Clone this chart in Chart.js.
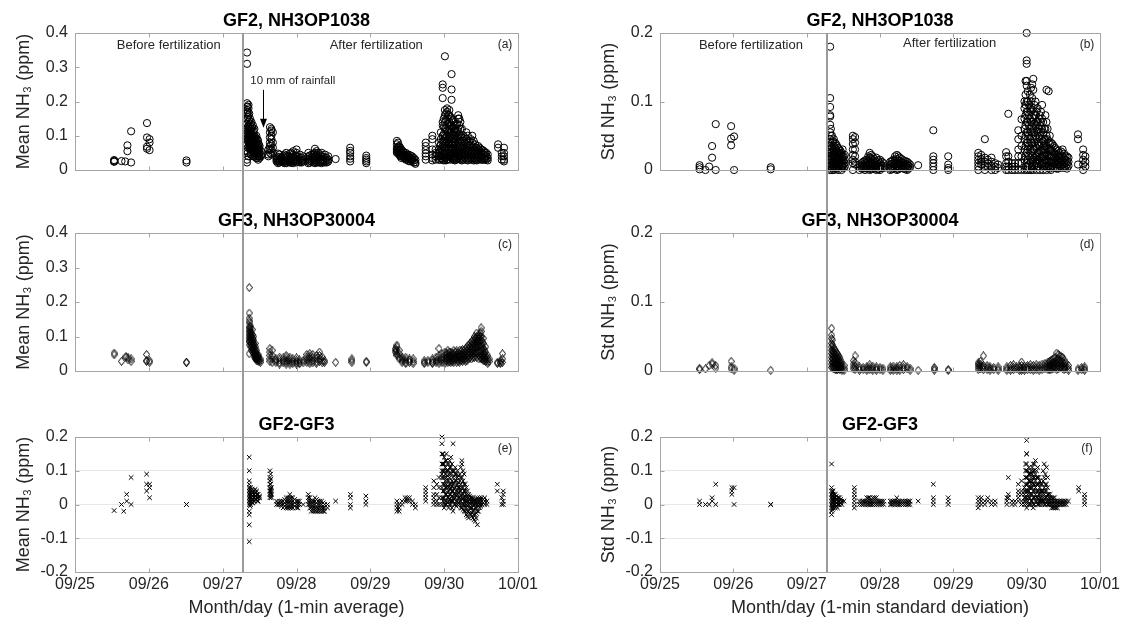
<!DOCTYPE html>
<html>
<head>
<meta charset="utf-8">
<title>NH3 GF2 / GF3</title>
<script src="https://cdn.jsdelivr.net/npm/chart.js@4.4.1/dist/chart.umd.min.js"></script>
<style>
  html, body { margin: 0; padding: 0; background: #fff; }
  #page { position: relative; width: 1123px; height: 624px; overflow: hidden; }
  .cell { position: absolute; }
</style>
</head>
<body>
<div id="page">
  <div class="cell" style="left:0;top:0;width:560px;height:200px"><canvas id="chartA"></canvas></div>
  <div class="cell" style="left:560px;top:0;width:563px;height:200px"><canvas id="chartB"></canvas></div>
  <div class="cell" style="left:0;top:200px;width:560px;height:200px"><canvas id="chartC"></canvas></div>
  <div class="cell" style="left:560px;top:200px;width:563px;height:200px"><canvas id="chartD"></canvas></div>
  <div class="cell" style="left:0;top:400px;width:560px;height:224px"><canvas id="chartE"></canvas></div>
  <div class="cell" style="left:560px;top:400px;width:563px;height:224px"><canvas id="chartF"></canvas></div>
</div>
<script>
// ==================================================
// 1. DATA
// x = days since 09/25 00:00, each row = [time, value, value, ...]
// ==================================================
const dayLabels = ['09/25', '09/26', '09/27', '09/28', '09/29', '09/30', '10/01'];
const fertilizationDay = 2.28;

// (a) GF2 1-min mean (ppm)
const gf2Mean = [
  [0.53, 0.029, 0.027, 0.025, 0.024], [0.63, 0.026], [0.68, 0.025], [0.71, 0.072, 0.055],
  [0.76, 0.113, 0.022], [0.975, 0.137, 0.095, 0.068, 0.062], [1.01, 0.09, 0.08, 0.058], [1.51, 0.028, 0.022],
  [2.33, 0.343, 0.31, 0.195, 0.185, 0.175, 0.165, 0.15, 0.135, 0.12, 0.105, 0.09, 0.055, 0.03, 0.022],
  [2.34, 0.185, 0.17, 0.155, 0.125, 0.11, 0.095, 0.085, 0.065, 0.05],
  [2.35, 0.19, 0.18, 0.16, 0.14, 0.13, 0.115, 0.1, 0.09, 0.08, 0.07, 0.04],
  [2.36, 0.165, 0.145, 0.125, 0.105, 0.095, 0.085, 0.075, 0.065],
  [2.37, 0.15, 0.13, 0.12, 0.11, 0.1, 0.09, 0.08, 0.07, 0.06],
  [2.38, 0.135, 0.115, 0.1, 0.09, 0.08, 0.07, 0.06, 0.045],
  [2.39, 0.14, 0.12, 0.105, 0.095, 0.085, 0.075, 0.065, 0.05],
  [2.40, 0.125, 0.1, 0.09, 0.08, 0.07, 0.06],
  [2.41, 0.13, 0.11, 0.1, 0.09, 0.08, 0.07, 0.06, 0.04],
  [2.42, 0.115, 0.095, 0.085, 0.075, 0.065, 0.05, 0.04],
  [2.43, 0.12, 0.1, 0.09, 0.08, 0.07, 0.055, 0.045],
  [2.445, 0.095, 0.085, 0.075, 0.06, 0.05, 0.04],
  [2.455, 0.1, 0.09, 0.08, 0.065, 0.05, 0.035],
  [2.47, 0.09, 0.075, 0.065, 0.055, 0.045, 0.035],
  [2.48, 0.085, 0.07, 0.06, 0.05, 0.04, 0.03],
  [2.49, 0.075, 0.065, 0.055, 0.045],
  [2.50, 0.07, 0.06, 0.05, 0.04, 0.035], [2.52, 0.055, 0.045, 0.04],
  [2.62, 0.06, 0.045, 0.04],
  [2.64, 0.125, 0.11, 0.095, 0.08, 0.07, 0.06, 0.05],
  [2.66, 0.12, 0.115, 0.1, 0.09, 0.075, 0.06, 0.045],
  [2.68, 0.11, 0.08, 0.065, 0.05],
  [2.73, 0.04, 0.035, 0.03, 0.025], [2.75, 0.048, 0.033, 0.027, 0.02], [2.77, 0.045, 0.038, 0.03, 0.025, 0.022],
  [2.795, 0.036, 0.03, 0.024], [2.82, 0.04, 0.032, 0.028, 0.022], [2.84, 0.045, 0.036, 0.026, 0.02],
  [2.86, 0.05, 0.042, 0.035, 0.03, 0.025, 0.02], [2.885, 0.04, 0.03, 0.024],
  [2.91, 0.048, 0.04, 0.033, 0.028, 0.022], [2.93, 0.05, 0.035, 0.027, 0.021],
  [2.955, 0.055, 0.045, 0.038, 0.03, 0.025, 0.02], [2.98, 0.042, 0.032, 0.026],
  [3.0, 0.06, 0.05, 0.04, 0.033, 0.027, 0.022], [3.02, 0.038, 0.03, 0.024],
  [3.045, 0.045, 0.035, 0.028, 0.022], [3.07, 0.035, 0.027, 0.022], [3.09, 0.04, 0.03, 0.025],
  [3.16, 0.05, 0.04, 0.032, 0.025, 0.02], [3.18, 0.042, 0.034, 0.027, 0.021], [3.205, 0.045, 0.037, 0.03, 0.024],
  [3.23, 0.047, 0.038, 0.03, 0.022], [3.25, 0.062, 0.05, 0.04, 0.03, 0.025, 0.02],
  [3.27, 0.055, 0.045, 0.036, 0.028, 0.022], [3.295, 0.05, 0.042, 0.035, 0.028, 0.022],
  [3.32, 0.045, 0.036, 0.028, 0.022], [3.34, 0.05, 0.04, 0.032, 0.025, 0.02], [3.36, 0.038, 0.03, 0.024],
  [3.386, 0.045, 0.035, 0.028, 0.022], [3.41, 0.035, 0.028, 0.022], [3.43, 0.04, 0.03, 0.025],
  [3.53, 0.032],
  [3.727, 0.065, 0.056, 0.05, 0.04, 0.033, 0.025],
  [3.945, 0.042, 0.035, 0.03, 0.025, 0.02],
  [4.36, 0.085, 0.075, 0.065, 0.06, 0.055, 0.05], [4.375, 0.08, 0.068, 0.058, 0.05],
  [4.39, 0.07, 0.06, 0.055, 0.05, 0.045], [4.405, 0.065, 0.055, 0.048, 0.04],
  [4.42, 0.06, 0.05, 0.045, 0.04, 0.035], [4.44, 0.055, 0.048, 0.04], [4.455, 0.05, 0.045, 0.04, 0.035],
  [4.48, 0.05, 0.042, 0.036, 0.03], [4.5, 0.045, 0.04, 0.035, 0.03], [4.52, 0.045, 0.038, 0.032, 0.026],
  [4.545, 0.042, 0.035, 0.03, 0.025], [4.565, 0.04, 0.032, 0.026], [4.59, 0.035, 0.028, 0.022],
  [4.61, 0.03, 0.022, 0.018],
  [4.75, 0.08, 0.07, 0.058, 0.048, 0.04, 0.03],
  [4.84, 0.1, 0.09, 0.06, 0.045, 0.035, 0.028], [4.885, 0.06, 0.05, 0.04, 0.03],
  [4.93, 0.08, 0.06, 0.05, 0.04, 0.03], [4.945, 0.07, 0.055, 0.04, 0.03],
  [4.955, 0.11, 0.09, 0.075, 0.06, 0.045, 0.035],
  [4.98, 0.25, 0.24, 0.21, 0.14, 0.13, 0.1, 0.085, 0.07, 0.055, 0.04, 0.03],
  [4.995, 0.15, 0.125, 0.105, 0.08, 0.065, 0.05, 0.038, 0.028],
  [5.01, 0.332, 0.175, 0.16, 0.14, 0.12, 0.1, 0.09, 0.075, 0.06, 0.045, 0.035],
  [5.025, 0.165, 0.145, 0.12, 0.095, 0.08, 0.065, 0.05, 0.036, 0.028],
  [5.04, 0.18, 0.17, 0.15, 0.13, 0.115, 0.1, 0.085, 0.07, 0.055, 0.04, 0.03],
  [5.055, 0.16, 0.135, 0.11, 0.09, 0.075, 0.06, 0.045, 0.032],
  [5.07, 0.175, 0.16, 0.14, 0.12, 0.1, 0.08, 0.065, 0.05, 0.04],
  [5.085, 0.155, 0.13, 0.11, 0.095, 0.07, 0.055, 0.042, 0.03],
  [5.10, 0.28, 0.235, 0.205, 0.15, 0.13, 0.11, 0.09, 0.075, 0.06, 0.045, 0.035],
  [5.115, 0.145, 0.125, 0.105, 0.09, 0.075, 0.06, 0.045, 0.032],
  [5.13, 0.14, 0.12, 0.1, 0.085, 0.07, 0.055, 0.04, 0.03],
  [5.145, 0.12, 0.1, 0.08, 0.065, 0.05, 0.036, 0.028],
  [5.16, 0.13, 0.11, 0.09, 0.075, 0.06, 0.05, 0.04, 0.03],
  [5.175, 0.135, 0.115, 0.095, 0.07, 0.055, 0.045, 0.033],
  [5.19, 0.16, 0.15, 0.12, 0.1, 0.08, 0.065, 0.05, 0.035],
  [5.205, 0.15, 0.13, 0.105, 0.09, 0.075, 0.06, 0.045, 0.032],
  [5.22, 0.14, 0.12, 0.1, 0.085, 0.07, 0.055, 0.04, 0.03],
  [5.24, 0.12, 0.095, 0.08, 0.065, 0.05, 0.036, 0.028],
  [5.26, 0.1, 0.085, 0.07, 0.06, 0.05, 0.04, 0.03],
  [5.28, 0.095, 0.08, 0.065, 0.055, 0.045, 0.035],
  [5.30, 0.11, 0.09, 0.075, 0.06, 0.05, 0.04, 0.03],
  [5.32, 0.1, 0.08, 0.065, 0.055, 0.045, 0.035, 0.028],
  [5.34, 0.085, 0.07, 0.06, 0.05, 0.04, 0.03], [5.36, 0.09, 0.075, 0.055, 0.045, 0.035],
  [5.38, 0.1, 0.08, 0.065, 0.05, 0.04, 0.03], [5.40, 0.085, 0.068, 0.055, 0.045, 0.035, 0.028],
  [5.42, 0.075, 0.06, 0.05, 0.04, 0.03], [5.44, 0.065, 0.055, 0.045, 0.035, 0.028],
  [5.46, 0.07, 0.06, 0.05, 0.04, 0.03], [5.48, 0.065, 0.055, 0.045, 0.035],
  [5.50, 0.06, 0.05, 0.04, 0.03], [5.52, 0.058, 0.048, 0.038, 0.03],
  [5.54, 0.055, 0.045, 0.035, 0.03], [5.555, 0.05, 0.04, 0.032], [5.57, 0.05, 0.04, 0.03],
  [5.59, 0.045, 0.035, 0.028],
  [5.73, 0.075, 0.065], [5.78, 0.05, 0.04, 0.03], [5.81, 0.065, 0.05, 0.04, 0.03, 0.025]
];

// (b) GF2 1-min standard deviation (ppm)
const gf2Std = [
  [0.54, 0.007, 0.004, 0.001], [0.62, 0], [0.67, 0.005], [0.71, 0.035, 0.018], [0.76, 0.067, 0.0],
  [0.97, 0.064, 0.046, 0.036], [1.01, 0.049, 0.0], [1.51, 0.004, 0.001],
  [2.32, 0.18, 0.105, 0.092, 0.08, 0.078, 0.066, 0.055, 0.045, 0.04, 0.03, 0.02, 0.01, 0.0],
  [2.33, 0.06, 0.05, 0.035, 0.025, 0.015, 0.005],
  [2.345, 0.05, 0.04, 0.033, 0.027, 0.022, 0.018, 0.012, 0.008, 0.003, 0.0],
  [2.36, 0.042, 0.03, 0.02, 0.01, 0.004],
  [2.37, 0.045, 0.035, 0.028, 0.022, 0.016, 0.012, 0.006, 0.0],
  [2.385, 0.04, 0.032, 0.025, 0.02, 0.014, 0.009, 0.002],
  [2.40, 0.038, 0.03, 0.024, 0.018, 0.013, 0.008, 0.004],
  [2.415, 0.035, 0.027, 0.02, 0.014, 0.008, 0.002],
  [2.43, 0.032, 0.025, 0.02, 0.015, 0.01, 0.005, 0.0],
  [2.445, 0.03, 0.024, 0.018, 0.012, 0.006],
  [2.46, 0.028, 0.022, 0.016, 0.012, 0.007], [2.475, 0.025, 0.018, 0.012, 0.006, 0.0],
  [2.49, 0.03, 0.02, 0.015, 0.01, 0.005], [2.505, 0.02, 0.013, 0.008, 0.003],
  [2.52, 0.022, 0.015, 0.01, 0.005],
  [2.63, 0.05, 0.045, 0.038, 0.03, 0.022, 0.015, 0.01, 0.0], [2.66, 0.048, 0.04, 0.03, 0.02, 0.012, 0.008],
  [2.72, 0.008, 0.004, 0.0], [2.75, 0.01, 0.006, 0.002], [2.77, 0.012, 0.008, 0.005, 0.002],
  [2.795, 0.014, 0.01, 0.004, 0.0], [2.82, 0.015, 0.01, 0.006, 0.002], [2.84, 0.02, 0.013, 0.008, 0.003],
  [2.86, 0.025, 0.018, 0.012, 0.008, 0.004, 0.0], [2.88, 0.022, 0.016, 0.01, 0.006, 0.001],
  [2.9, 0.02, 0.014, 0.009, 0.005, 0.002], [2.925, 0.016, 0.011, 0.006, 0.002],
  [2.95, 0.018, 0.012, 0.008, 0.004, 0.0], [2.975, 0.014, 0.009, 0.005, 0.001],
  [3.0, 0.015, 0.01, 0.006, 0.003, 0.0], [3.025, 0.012, 0.007, 0.003], [3.05, 0.01, 0.006, 0.003],
  [3.14, 0.012, 0.008, 0.004, 0.0], [3.16, 0.013, 0.009, 0.005, 0.001], [3.18, 0.015, 0.01, 0.006, 0.002],
  [3.205, 0.02, 0.014, 0.008, 0.003], [3.23, 0.022, 0.016, 0.01, 0.006, 0.002, 0.0],
  [3.25, 0.02, 0.014, 0.009, 0.005, 0.001], [3.27, 0.018, 0.012, 0.008, 0.004],
  [3.295, 0.016, 0.011, 0.007, 0.003], [3.32, 0.014, 0.01, 0.006, 0.002],
  [3.345, 0.013, 0.009, 0.005, 0.001], [3.37, 0.012, 0.008, 0.004, 0.0], [3.39, 0.01, 0.006, 0.002],
  [3.41, 0.008, 0.004],
  [3.52, 0.007],
  [3.727, 0.058, 0.02, 0.015, 0.01, 0.005, 0.0],
  [3.93, 0.02, 0.008, 0.003, 0.0],
  [4.34, 0.025, 0.02, 0.015, 0.01, 0.005, 0.0], [4.38, 0.022, 0.016, 0.012, 0.008],
  [4.43, 0.045, 0.018, 0.012, 0.006, 0.0], [4.47, 0.015, 0.01, 0.005], [4.52, 0.018, 0.012, 0.006, 0.0],
  [4.57, 0.01, 0.005, 0.0], [4.61, 0.008, 0.003],
  [4.72, 0.026, 0.02, 0.01, 0.005, 0.0], [4.75, 0.082, 0.02, 0.012, 0.005, 0.0],
  [4.80, 0.01, 0.005, 0.0], [4.84, 0.01, 0.005, 0.0],
  [4.886, 0.058, 0.045, 0.03, 0.02, 0.01, 0.0], [4.93, 0.074, 0.05, 0.035, 0.02, 0.01, 0.0],
  [4.97, 0.1, 0.09, 0.075, 0.06, 0.045, 0.03, 0.015, 0.0],
  [4.985, 0.13, 0.11, 0.095, 0.08, 0.065, 0.05, 0.035, 0.02, 0.005],
  [5.0, 0.2, 0.16, 0.155, 0.13, 0.123, 0.1, 0.085, 0.07, 0.055, 0.04, 0.025, 0.01, 0.0],
  [5.015, 0.115, 0.1, 0.085, 0.07, 0.055, 0.04, 0.03, 0.015, 0.005],
  [5.03, 0.095, 0.08, 0.065, 0.05, 0.035, 0.02, 0.008, 0.0],
  [5.045, 0.11, 0.09, 0.075, 0.06, 0.045, 0.03, 0.018, 0.005],
  [5.06, 0.12, 0.1, 0.085, 0.07, 0.055, 0.04, 0.025, 0.012, 0.0],
  [5.075, 0.125, 0.105, 0.088, 0.07, 0.055, 0.04, 0.028, 0.015, 0.005],
  [5.09, 0.133, 0.117, 0.09, 0.075, 0.06, 0.045, 0.03, 0.015, 0.0],
  [5.105, 0.095, 0.08, 0.068, 0.055, 0.04, 0.03, 0.018, 0.006],
  [5.12, 0.1, 0.08, 0.065, 0.05, 0.035, 0.02, 0.01],
  [5.135, 0.085, 0.07, 0.058, 0.045, 0.032, 0.02, 0.01, 0.0],
  [5.15, 0.09, 0.07, 0.055, 0.04, 0.025, 0.015, 0.005],
  [5.165, 0.075, 0.06, 0.048, 0.036, 0.025, 0.015, 0.005],
  [5.18, 0.08, 0.065, 0.05, 0.035, 0.02, 0.01, 0.0],
  [5.195, 0.085, 0.07, 0.055, 0.04, 0.028, 0.018, 0.008],
  [5.21, 0.095, 0.075, 0.06, 0.045, 0.03, 0.02, 0.01],
  [5.225, 0.07, 0.055, 0.042, 0.03, 0.02, 0.01, 0.0],
  [5.24, 0.06, 0.045, 0.035, 0.025, 0.015, 0.005],
  [5.255, 0.08, 0.06, 0.045, 0.03, 0.02, 0.01],
  [5.27, 0.117, 0.07, 0.05, 0.035, 0.025, 0.015, 0.005, 0.0],
  [5.285, 0.06, 0.045, 0.032, 0.022, 0.012, 0.004],
  [5.30, 0.115, 0.04, 0.03, 0.02, 0.012, 0.005],
  [5.315, 0.05, 0.038, 0.028, 0.018, 0.01, 0.002],
  [5.33, 0.04, 0.03, 0.02, 0.012, 0.005, 0.0], [5.35, 0.038, 0.028, 0.02, 0.013, 0.006],
  [5.37, 0.035, 0.025, 0.018, 0.01, 0.004], [5.39, 0.032, 0.024, 0.017, 0.01, 0.003],
  [5.41, 0.03, 0.022, 0.015, 0.008, 0.002], [5.43, 0.028, 0.02, 0.014, 0.008, 0.002],
  [5.45, 0.025, 0.018, 0.012, 0.006], [5.47, 0.027, 0.019, 0.012, 0.005],
  [5.49, 0.03, 0.02, 0.014, 0.008, 0.003], [5.51, 0.024, 0.017, 0.01, 0.004],
  [5.53, 0.02, 0.015, 0.01, 0.005], [5.55, 0.02, 0.013, 0.008, 0.002], [5.57, 0.018, 0.012, 0.006],
  [5.70, 0.052, 0.045, 0.008], [5.77, 0.03, 0.022, 0.015, 0.008, 0.0], [5.80, 0.02, 0.012, 0.005]
];

// (c) GF3 1-min mean (ppm)
const gf3Mean = [
  [0.53, 0.052, 0.047], [0.63, 0.028], [0.69, 0.042, 0.04], [0.72, 0.038, 0.032], [0.76, 0.035, 0.028],
  [0.97, 0.048, 0.03, 0.028], [1.01, 0.03, 0.025], [1.51, 0.026, 0.024],
  [2.36, 0.242, 0.168, 0.153, 0.145, 0.13, 0.12, 0.11, 0.1, 0.09, 0.085, 0.05],
  [2.37, 0.14, 0.125, 0.115, 0.105, 0.095, 0.085, 0.075],
  [2.38, 0.13, 0.12, 0.11, 0.1, 0.09, 0.08, 0.07], [2.39, 0.11, 0.1, 0.09, 0.08, 0.07, 0.06],
  [2.40, 0.12, 0.105, 0.095, 0.085, 0.075, 0.065], [2.41, 0.095, 0.085, 0.075, 0.065, 0.055],
  [2.42, 0.1, 0.09, 0.08, 0.07, 0.06, 0.05], [2.43, 0.075, 0.065, 0.055, 0.045, 0.04],
  [2.44, 0.08, 0.07, 0.06, 0.05, 0.04], [2.45, 0.055, 0.045, 0.04, 0.035],
  [2.46, 0.06, 0.05, 0.04, 0.035, 0.03], [2.475, 0.045, 0.04, 0.035, 0.03],
  [2.49, 0.045, 0.038, 0.032, 0.027], [2.51, 0.035, 0.03, 0.025],
  [2.64, 0.065, 0.055, 0.045, 0.035, 0.028], [2.67, 0.06, 0.045, 0.035, 0.025],
  [2.72, 0.035, 0.03, 0.025], [2.77, 0.04, 0.032, 0.025, 0.02], [2.82, 0.038, 0.03, 0.024],
  [2.86, 0.045, 0.038, 0.03, 0.025, 0.02], [2.91, 0.04, 0.032, 0.026, 0.02], [2.95, 0.035, 0.028, 0.022],
  [3.0, 0.038, 0.03, 0.025, 0.02], [3.04, 0.032, 0.026, 0.021], [3.09, 0.03, 0.024],
  [3.14, 0.048, 0.04, 0.032, 0.025], [3.18, 0.05, 0.042, 0.035, 0.028, 0.022],
  [3.22, 0.048, 0.04, 0.03, 0.024], [3.27, 0.045, 0.036, 0.028, 0.022],
  [3.31, 0.055, 0.045, 0.035, 0.028], [3.35, 0.04, 0.03, 0.024], [3.38, 0.03, 0.025],
  [3.53, 0.025], [3.75, 0.035, 0.03, 0.025], [3.945, 0.028, 0.025],
  [4.34, 0.065, 0.06, 0.055], [4.36, 0.075, 0.07, 0.06, 0.05, 0.045], [4.39, 0.06, 0.05, 0.04, 0.035],
  [4.43, 0.04, 0.035, 0.03, 0.025], [4.48, 0.04, 0.032, 0.026, 0.022], [4.53, 0.035, 0.03, 0.025],
  [4.58, 0.035, 0.028, 0.022],
  [4.73, 0.03, 0.025, 0.022], [4.78, 0.03, 0.025], [4.84, 0.035, 0.03, 0.025, 0.022], [4.89, 0.04, 0.03, 0.025],
  [4.93, 0.065, 0.045, 0.035, 0.028, 0.022], [4.97, 0.05, 0.04, 0.032, 0.025],
  [5.01, 0.055, 0.045, 0.035, 0.028, 0.022], [5.03, 0.05, 0.04, 0.03],
  [5.05, 0.06, 0.05, 0.04, 0.032, 0.025], [5.07, 0.055, 0.045, 0.035, 0.027],
  [5.09, 0.055, 0.045, 0.038, 0.03, 0.024], [5.11, 0.05, 0.042, 0.034, 0.027],
  [5.13, 0.06, 0.05, 0.04, 0.032, 0.025], [5.15, 0.055, 0.045, 0.036],
  [5.17, 0.058, 0.048, 0.04, 0.032, 0.025], [5.19, 0.052, 0.043, 0.035, 0.028],
  [5.21, 0.06, 0.05, 0.042, 0.034, 0.026], [5.23, 0.058, 0.048, 0.038, 0.03],
  [5.25, 0.062, 0.052, 0.044, 0.035, 0.028], [5.27, 0.06, 0.05, 0.04, 0.032],
  [5.29, 0.065, 0.055, 0.045, 0.035, 0.028], [5.31, 0.07, 0.06, 0.05, 0.04, 0.03],
  [5.33, 0.075, 0.065, 0.055, 0.045, 0.035], [5.35, 0.08, 0.07, 0.06, 0.05, 0.04],
  [5.37, 0.085, 0.075, 0.065, 0.055, 0.045, 0.035], [5.39, 0.09, 0.08, 0.07, 0.06, 0.05, 0.04],
  [5.41, 0.1, 0.09, 0.08, 0.07, 0.06, 0.05, 0.04], [5.43, 0.095, 0.085, 0.075, 0.065, 0.05],
  [5.44, 0.11, 0.1, 0.09, 0.08, 0.07, 0.055, 0.04], [5.46, 0.1, 0.09, 0.08, 0.07, 0.055],
  [5.47, 0.105, 0.095, 0.085, 0.075, 0.06, 0.045, 0.035], [5.49, 0.11, 0.1, 0.085, 0.07, 0.055, 0.04],
  [5.50, 0.125, 0.115, 0.1, 0.09, 0.075, 0.06, 0.045, 0.035], [5.52, 0.085, 0.07, 0.06, 0.045, 0.035],
  [5.53, 0.095, 0.08, 0.065, 0.05, 0.04, 0.03], [5.55, 0.06, 0.05, 0.04, 0.03],
  [5.56, 0.07, 0.055, 0.045, 0.035, 0.028],
  [5.59, 0.045, 0.035, 0.028, 0.022], [5.61, 0.035, 0.028],
  [5.72, 0.025, 0.022], [5.76, 0.03, 0.025, 0.022], [5.79, 0.05, 0.035, 0.025]
];

// (d) GF3 1-min standard deviation (ppm)
const gf3Std = [
  [0.54, 0.004, 0.002], [0.62, 0.003], [0.67, 0.008], [0.71, 0.012, 0.01], [0.76, 0.008, 0.004],
  [0.97, 0.014, 0.006, 0.003], [1.01, 0.004, 0.001], [1.51, 0.001],
  [2.34, 0.062, 0.052, 0.047, 0.04, 0.035, 0.03, 0.025, 0.02, 0.015, 0.01, 0.005],
  [2.35, 0.045, 0.038, 0.03, 0.024, 0.018, 0.012, 0.006],
  [2.36, 0.035, 0.028, 0.022, 0.017, 0.012, 0.008, 0.004], [2.375, 0.032, 0.026, 0.02, 0.014, 0.009, 0.004],
  [2.39, 0.03, 0.024, 0.018, 0.013, 0.009, 0.005, 0.002], [2.405, 0.027, 0.021, 0.016, 0.011, 0.006, 0.002],
  [2.42, 0.025, 0.02, 0.015, 0.01, 0.006, 0.002], [2.435, 0.022, 0.017, 0.012, 0.007, 0.003],
  [2.45, 0.02, 0.014, 0.01, 0.006, 0.002], [2.465, 0.016, 0.011, 0.007, 0.003],
  [2.48, 0.012, 0.008, 0.004, 0.001], [2.51, 0.008, 0.004, 0.001],
  [2.64, 0.015, 0.01, 0.006, 0.003], [2.66, 0.022, 0.012, 0.007, 0.002],
  [2.72, 0.006, 0.003, 0.001], [2.77, 0.005, 0.002], [2.82, 0.006, 0.003, 0.001], [2.86, 0.009, 0.005, 0.002],
  [2.9, 0.007, 0.004, 0.001], [2.95, 0.006, 0.003, 0.001], [3.0, 0.005, 0.002], [3.04, 0.004, 0.001],
  [3.14, 0.006, 0.003, 0.001], [3.18, 0.007, 0.004, 0.001], [3.23, 0.006, 0.003, 0.001],
  [3.27, 0.008, 0.004, 0.001], [3.32, 0.009, 0.005, 0.002], [3.37, 0.006, 0.003], [3.41, 0.004, 0.001],
  [3.52, 0.001], [3.74, 0.005, 0.003, 0.001], [3.93, 0.002, 0.001],
  [4.34, 0.012, 0.01, 0.008, 0.005, 0.002], [4.37, 0.014, 0.01, 0.007, 0.003], [4.41, 0.022, 0.008, 0.005, 0.002],
  [4.46, 0.008, 0.005, 0.002], [4.5, 0.006, 0.003, 0.001], [4.55, 0.005, 0.002], [4.61, 0.006, 0.003, 0.001],
  [4.73, 0.006, 0.003, 0.001], [4.78, 0.008, 0.004, 0.001], [4.82, 0.009, 0.005, 0.002], [4.86, 0.006, 0.003],
  [4.9, 0.007, 0.004, 0.001], [4.93, 0.013, 0.008, 0.004, 0.001], [4.97, 0.007, 0.004, 0.001],
  [5.01, 0.008, 0.005, 0.002], [5.05, 0.009, 0.005, 0.002], [5.09, 0.008, 0.004, 0.001],
  [5.13, 0.009, 0.005, 0.002], [5.17, 0.008, 0.004, 0.001], [5.21, 0.01, 0.006, 0.002],
  [5.25, 0.011, 0.007, 0.003], [5.29, 0.013, 0.009, 0.005, 0.002], [5.31, 0.014, 0.01, 0.006, 0.002],
  [5.33, 0.015, 0.01, 0.006, 0.002], [5.35, 0.017, 0.012, 0.008, 0.004],
  [5.37, 0.018, 0.012, 0.008, 0.004], [5.39, 0.02, 0.014, 0.009, 0.005],
  [5.41, 0.026, 0.016, 0.011, 0.006, 0.002], [5.43, 0.024, 0.018, 0.012, 0.007, 0.003],
  [5.45, 0.022, 0.015, 0.01, 0.005], [5.47, 0.021, 0.015, 0.01, 0.005],
  [5.49, 0.02, 0.013, 0.008, 0.004], [5.51, 0.016, 0.011, 0.006, 0.002], [5.53, 0.012, 0.007, 0.003],
  [5.57, 0.008, 0.004, 0.001],
  [5.70, 0.003, 0.001], [5.75, 0.005, 0.002], [5.79, 0.006, 0.003, 0.001]
];

// (e) GF2-GF3 difference of the 1-min means (ppm)
const diffMean = [
  [0.53, -0.018], [0.63, 0.0], [0.66, -0.02], [0.70, 0.03, 0.01], [0.76, 0.08, 0.0],
  [0.97, 0.09, 0.06, 0.04], [1.01, 0.06, 0.05, 0.02], [1.51, 0.0, 0.0],
  [2.36, 0.14, 0.1, 0.07, 0.06, 0.05, 0.04, 0.03, 0.02, 0.01, 0.0, -0.02, -0.03, -0.06, -0.11],
  [2.37, 0.045, 0.035, 0.025, 0.015, 0.005, -0.005],
  [2.38, 0.05, 0.04, 0.03, 0.02, 0.01, 0.0], [2.39, 0.04, 0.03, 0.02, 0.01],
  [2.40, 0.045, 0.035, 0.025, 0.015, 0.005], [2.41, 0.035, 0.025, 0.015, 0.005],
  [2.42, 0.04, 0.03, 0.02, 0.01], [2.43, 0.04, 0.03, 0.02, 0.01],
  [2.44, 0.045, 0.035, 0.025, 0.015], [2.45, 0.035, 0.025, 0.015], [2.46, 0.04, 0.03, 0.02],
  [2.47, 0.03, 0.02, 0.01], [2.48, 0.03, 0.02, 0.01], [2.50, 0.025, 0.02],
  [2.64, 0.1, 0.08, 0.07, 0.06, 0.05, 0.04, 0.03, 0.02], [2.65, 0.09, 0.075, 0.06, 0.045, 0.035, 0.025],
  [2.66, 0.05, 0.04, 0.03, 0.02],
  [2.73, 0.01, 0.0], [2.75, 0.005, 0.0], [2.77, 0.01, 0.0], [2.795, 0.01, 0.0, -0.005],
  [2.82, 0.01, 0.0, -0.01], [2.84, 0.015, 0.005, -0.005], [2.86, 0.02, 0.01, 0.0, -0.01],
  [2.885, 0.02, 0.01, 0.0, -0.01], [2.91, 0.03, 0.02, 0.01, 0.0, -0.01], [2.93, 0.02, 0.01, 0.0, -0.01],
  [2.95, 0.02, 0.01, 0.0, -0.01], [2.975, 0.015, 0.005, -0.005], [3.0, 0.01, 0.0, -0.01],
  [3.02, 0.01, 0.0, -0.01], [3.04, 0.01, 0.0], [3.09, 0.0],
  [3.16, 0.03, 0.02, 0.01, 0.0], [3.18, 0.02, 0.01, 0.0, -0.01], [3.2, 0.01, 0.0, -0.01, -0.02],
  [3.225, 0.01, 0.0, -0.01, -0.02], [3.25, 0.02, 0.01, 0.0, -0.01, -0.02],
  [3.27, 0.015, 0.005, -0.01, -0.02], [3.29, 0.01, 0.0, -0.01, -0.02],
  [3.315, 0.01, 0.0, -0.01, -0.02], [3.34, 0.01, 0.0, -0.01, -0.02], [3.36, 0.005, -0.01, -0.02],
  [3.38, 0.0, -0.01, -0.02], [3.42, 0.0, -0.01],
  [3.53, 0.01], [3.73, 0.03, 0.02, 0.0, -0.01], [3.94, 0.025, 0.01, 0.0],
  [4.36, 0.01, 0.0, -0.01, -0.02], [4.39, 0.0, -0.01, -0.02], [4.43, 0.01, 0.0], [4.47, 0.02, 0.01],
  [4.5, 0.02, 0.01], [4.53, 0.02, 0.01], [4.57, 0.01, 0.0], [4.61, -0.01, 0.0],
  [4.75, 0.05, 0.04, 0.03, 0.02, 0.01],
  [4.86, 0.07, 0.05, 0.03, 0.02, 0.01, 0.0], [4.9, 0.06, 0.03, 0.01, 0.0], [4.93, 0.08, 0.05, 0.02, 0.0],
  [4.97, 0.2, 0.18, 0.15, 0.12, 0.1, 0.09, 0.08, 0.05, 0.02, 0.0],
  [4.985, 0.15, 0.12, 0.1, 0.08, 0.06, 0.04, 0.02, 0.01],
  [5.0, 0.14, 0.12, 0.1, 0.08, 0.06, 0.04, 0.02, 0.0, -0.01],
  [5.015, 0.13, 0.11, 0.09, 0.07, 0.05, 0.03, 0.01, 0.0],
  [5.03, 0.15, 0.13, 0.1, 0.08, 0.06, 0.05, 0.03, 0.01, 0.0],
  [5.045, 0.12, 0.1, 0.085, 0.07, 0.055, 0.035, 0.02, 0.005],
  [5.06, 0.12, 0.1, 0.09, 0.07, 0.05, 0.04, 0.02, 0.01, -0.01],
  [5.075, 0.13, 0.11, 0.08, 0.06, 0.045, 0.03, 0.015, 0.0],
  [5.09, 0.14, 0.11, 0.09, 0.06, 0.05, 0.03, 0.01, 0.0],
  [5.105, 0.12, 0.1, 0.07, 0.055, 0.04, 0.025, 0.01, -0.01],
  [5.12, 0.18, 0.1, 0.08, 0.06, 0.04, 0.02, 0.01, -0.02],
  [5.135, 0.1, 0.085, 0.065, 0.045, 0.03, 0.015, 0.0],
  [5.15, 0.11, 0.09, 0.07, 0.05, 0.03, 0.02, 0.0], [5.165, 0.09, 0.07, 0.055, 0.04, 0.025, 0.01, -0.005],
  [5.18, 0.1, 0.08, 0.06, 0.04, 0.03, 0.01, 0.0], [5.195, 0.085, 0.065, 0.05, 0.035, 0.02, 0.005],
  [5.21, 0.09, 0.07, 0.05, 0.04, 0.02, 0.01, 0.0], [5.225, 0.11, 0.08, 0.06, 0.04, 0.025, 0.01, -0.01],
  [5.24, 0.13, 0.12, 0.08, 0.05, 0.03, 0.02, 0.0, -0.01],
  [5.255, 0.1, 0.07, 0.05, 0.03, 0.015, 0.0, -0.015],
  [5.27, 0.09, 0.06, 0.04, 0.02, 0.01, 0.0, -0.02], [5.285, 0.06, 0.04, 0.025, 0.01, -0.005, -0.02],
  [5.30, 0.05, 0.03, 0.02, 0.01, 0.0, -0.01, -0.03], [5.315, 0.04, 0.025, 0.01, -0.005, -0.02, -0.035],
  [5.33, 0.03, 0.02, 0.01, 0.0, -0.02, -0.04], [5.345, 0.025, 0.015, 0.005, -0.01, -0.025],
  [5.36, 0.02, 0.01, 0.0, -0.01, -0.03], [5.375, 0.02, 0.005, -0.01, -0.025, -0.035],
  [5.39, 0.02, 0.01, 0.0, -0.02, -0.04], [5.405, 0.015, 0.0, -0.015, -0.03, -0.045],
  [5.42, 0.01, 0.0, -0.01, -0.03, -0.05], [5.435, 0.015, 0.005, -0.01, -0.025, -0.04],
  [5.45, 0.02, 0.01, 0.0, -0.02, -0.06], [5.465, 0.015, 0.005, -0.005, -0.02],
  [5.48, 0.02, 0.01, 0.0, -0.01], [5.495, 0.015, 0.005, -0.005], [5.51, 0.02, 0.01, 0.0],
  [5.53, 0.015, 0.005], [5.55, 0.02, 0.01, 0.0], [5.58, 0.01, 0.0],
  [5.72, 0.06, 0.04], [5.78, 0.02, 0.0], [5.8, 0.04, 0.03, 0.01, 0.0]
];

// (f) GF2-GF3 difference of the 1-min standard deviations (ppm)
const diffStd = [
  [0.54, 0.01, 0.0], [0.62, 0.0], [0.67, 0.0], [0.71, 0.02, 0.01], [0.76, 0.06, 0.0],
  [0.98, 0.05, 0.04, 0.03], [1.01, 0.05, 0.0], [1.51, 0.0, 0.0],
  [2.34, 0.12, 0.05, 0.04, 0.03, 0.02, 0.01, 0.0, -0.01, -0.02, -0.03],
  [2.35, 0.035, 0.025, 0.015, 0.005, -0.005, -0.015],
  [2.36, 0.04, 0.03, 0.02, 0.01, 0.0, -0.01], [2.375, 0.03, 0.02, 0.01, 0.0],
  [2.39, 0.03, 0.02, 0.01, 0.0, -0.01], [2.405, 0.025, 0.015, 0.005, -0.005],
  [2.42, 0.02, 0.01, 0.0, -0.01], [2.435, 0.02, 0.01, 0.0], [2.45, 0.02, 0.01, 0.0],
  [2.465, 0.015, 0.005], [2.48, 0.01, 0.0], [2.51, 0.01],
  [2.65, 0.05, 0.04, 0.03, 0.02, 0.01, 0.0, -0.01],
  [2.72, 0.01, 0.0], [2.75, 0.01, 0.0], [2.77, 0.01, 0.0], [2.795, 0.01, 0.0], [2.82, 0.02, 0.01, 0.0],
  [2.84, 0.02, 0.01, 0.0], [2.86, 0.02, 0.01, 0.0], [2.88, 0.01, 0.0], [2.9, 0.02, 0.01, 0.0],
  [2.925, 0.02, 0.01, 0.0], [2.95, 0.02, 0.01, 0.0], [2.975, 0.01, 0.0], [3.0, 0.01, 0.0],
  [3.025, 0.01, 0.0], [3.05, 0.01, 0.0],
  [3.14, 0.01, 0.0], [3.16, 0.01, 0.0], [3.18, 0.01, 0.0], [3.205, 0.01, 0.0], [3.23, 0.02, 0.01, 0.0],
  [3.25, 0.01, 0.0], [3.27, 0.01, 0.0], [3.295, 0.01, 0.0], [3.32, 0.01, 0.0], [3.345, 0.01, 0.0],
  [3.37, 0.01, 0.0], [3.39, 0.01, 0.0], [3.41, 0.01, 0.0], [3.52, 0.01],
  [3.727, 0.06, 0.02, 0.01, 0.0], [3.93, 0.02, 0.01, 0.0],
  [4.34, 0.02, 0.01, 0.0, -0.01], [4.38, 0.02, 0.01, 0.0], [4.43, 0.01, 0.0], [4.47, 0.02, 0.01],
  [4.52, 0.01, 0.0], [4.57, 0.01, 0.0],
  [4.73, 0.02, 0.01, 0.0], [4.75, 0.08, 0.03, 0.02], [4.8, 0.01, 0.0], [4.84, 0.01, 0.0],
  [4.886, 0.06, 0.04, 0.03, 0.02, 0.01], [4.93, 0.07, 0.04, 0.03, 0.01, 0.0],
  [4.97, 0.05, 0.04, 0.03, 0.02, 0.01, 0.0], [4.985, 0.12, 0.1, 0.08, 0.06, 0.04, 0.02, 0.01],
  [5.0, 0.19, 0.15, 0.15, 0.12, 0.1, 0.08, 0.06, 0.04, 0.02, 0.0, -0.01],
  [5.015, 0.1, 0.08, 0.06, 0.04, 0.03, 0.01],
  [5.03, 0.11, 0.09, 0.07, 0.05, 0.04, 0.02, 0.0], [5.045, 0.09, 0.07, 0.05, 0.03, 0.02, 0.0],
  [5.06, 0.1, 0.08, 0.06, 0.05, 0.03, 0.01, 0.0], [5.075, 0.11, 0.09, 0.07, 0.05, 0.03, 0.01],
  [5.09, 0.12, 0.1, 0.08, 0.06, 0.04, 0.02, 0.0, -0.01], [5.105, 0.12, 0.1, 0.08, 0.06, 0.04, 0.02, 0.0],
  [5.12, 0.13, 0.09, 0.07, 0.05, 0.03, 0.01], [5.135, 0.1, 0.08, 0.06, 0.04, 0.02, 0.01],
  [5.15, 0.11, 0.08, 0.06, 0.04, 0.02, 0.0], [5.165, 0.08, 0.06, 0.04, 0.03, 0.01, 0.0],
  [5.18, 0.07, 0.05, 0.03, 0.02, 0.01, 0.0], [5.195, 0.06, 0.04, 0.02, 0.01],
  [5.21, 0.06, 0.04, 0.03, 0.01, 0.0], [5.225, 0.1, 0.07, 0.04, 0.02, 0.01],
  [5.24, 0.12, 0.08, 0.05, 0.03, 0.01, 0.0], [5.255, 0.09, 0.06, 0.04, 0.02, 0.0],
  [5.27, 0.11, 0.06, 0.04, 0.02, 0.01], [5.285, 0.08, 0.05, 0.03, 0.01, 0.0],
  [5.3, 0.03, 0.02, 0.01, 0.0], [5.32, 0.03, 0.02, 0.01, 0.0],
  [5.34, 0.02, 0.01, 0.0, -0.01], [5.36, 0.02, 0.01, 0.0, -0.01], [5.38, 0.02, 0.01, 0.0, -0.01],
  [5.40, 0.01, 0.0, -0.01], [5.42, 0.01, 0.0, -0.01], [5.44, 0.01, 0.0], [5.46, 0.01, 0.0],
  [5.48, 0.01, 0.0], [5.5, 0.01, 0.0], [5.52, 0.01, 0.0], [5.54, 0.01, 0.0], [5.57, 0.01],
  [5.71, 0.05, 0.04], [5.79, 0.03, 0.02, 0.01, 0.0]
];

// ==================================================
// 2. STYLE
// ==================================================
const FONT = "'Liberation Sans', Arial, Helvetica, sans-serif";
const textColor = '#262626';
const boxColor = '#a6a6a6';
const fertLineColor = '#9a9a9a';

function toPoints(columns) {
  const pts = [];
  columns.forEach(col => {
    for (let i = 1; i < col.length; i++) pts.push({ x: col[0], y: col[i] });
  });
  return pts;
}

// hollow diamond, a bit taller than wide (MATLAB 'd' marker)
function diamondMarker(w, h) {
  const c = document.createElement('canvas');
  c.width = w; c.height = h;
  const g = c.getContext('2d');
  g.strokeStyle = '#000';
  g.lineWidth = 1;
  g.beginPath();
  g.moveTo(w / 2, 0.5);
  g.lineTo(w - 0.5, h / 2);
  g.lineTo(w / 2, h - 0.5);
  g.lineTo(0.5, h / 2);
  g.closePath();
  g.stroke();
  return c;
}

// ==================================================
// 3. PLUGIN: box, inward ticks, fertilization line, notes
// ==================================================
const panelDecor = {
  id: 'panelDecor',
  afterDatasetsDraw(chart, args, opts) {
    const { ctx, chartArea: a, scales: { x, y } } = chart;
    ctx.save();

    // axes box
    ctx.strokeStyle = boxColor;
    ctx.lineWidth = 1;
    const L = Math.round(a.left) + 0.5, R = Math.round(a.right) + 0.5;
    const T = Math.round(a.top) + 0.5, B = Math.round(a.bottom) + 0.5;
    ctx.strokeRect(L, T, R - L, B - T);

    // inward tick marks on all four sides
    ctx.beginPath();
    y.ticks.forEach(t => {
      const py = Math.round(y.getPixelForValue(t.value)) + 0.5;
      ctx.moveTo(L, py); ctx.lineTo(L + 4, py);
      ctx.moveTo(R, py); ctx.lineTo(R - 4, py);
    });
    x.ticks.forEach(t => {
      const px = Math.round(x.getPixelForValue(t.value)) + 0.5;
      ctx.moveTo(px, B); ctx.lineTo(px, B - 4);
      ctx.moveTo(px, T); ctx.lineTo(px, T + 4);
    });
    ctx.stroke();

    // fertilization line, runs through the gaps between rows
    const fx = Math.round(x.getPixelForValue(fertilizationDay));
    ctx.strokeStyle = fertLineColor;
    ctx.lineWidth = 2;
    ctx.beginPath();
    ctx.moveTo(fx, opts.lineFromCanvasTop ? 0 : a.top);
    ctx.lineTo(fx, opts.lineToCanvasBottom ? chart.height : a.bottom);
    ctx.stroke();

    // panel letter
    ctx.fillStyle = textColor;
    ctx.font = '12px ' + FONT;
    ctx.textAlign = 'center';
    ctx.textBaseline = 'middle';
    ctx.fillText(opts.letter, a.right - 13, a.top + 12);

    // text notes placed in data coordinates
    (opts.notes || []).forEach(n => {
      ctx.font = n.size + 'px ' + FONT;
      ctx.fillText(n.text, x.getPixelForValue(n.x), y.getPixelForValue(n.y));
    });

    // arrow
    if (opts.arrow) {
      const ax = Math.round(x.getPixelForValue(opts.arrow.x)) + 0.5;
      const y0 = y.getPixelForValue(opts.arrow.from);
      const y1 = y.getPixelForValue(opts.arrow.to);
      ctx.strokeStyle = '#000';
      ctx.lineWidth = 1;
      ctx.beginPath();
      ctx.moveTo(ax, y0); ctx.lineTo(ax, y1 - 6);
      ctx.stroke();
      ctx.fillStyle = '#000';
      ctx.beginPath();
      ctx.moveTo(ax, y1); ctx.lineTo(ax - 3.5, y1 - 9); ctx.lineTo(ax + 3.5, y1 - 9);
      ctx.closePath();
      ctx.fill();
    }
    ctx.restore();
  }
};
Chart.register(panelDecor);

// ==================================================
// 4. PANELS
// ==================================================
function makePanel(canvasId, cfg) {
  return new Chart(document.getElementById(canvasId), {
    type: 'scatter',
    data: {
      datasets: [{
        data: toPoints(cfg.columns),
        pointStyle: cfg.marker,
        pointRadius: cfg.radius,
        borderColor: '#000',
        backgroundColor: 'rgba(0,0,0,0)',
        borderWidth: 1,
        clip: false
      }]
    },
    options: {
      responsive: true,
      maintainAspectRatio: false,
      animation: false,
      events: [],
      layout: { padding: { left: 0, right: cfg.padRight, top: 0, bottom: 0 } },
      plugins: {
        legend: { display: false },
        tooltip: { enabled: false },
        title: {
          display: true,
          text: cfg.title,
          fullSize: false,
          color: '#000',
          font: { family: FONT, size: 18, weight: 'bold', lineHeight: '20px' },
          padding: { top: cfg.titleTop, bottom: 2 }
        },
        panelDecor: {
          letter: cfg.letter,
          notes: cfg.notes,
          arrow: cfg.arrow,
          lineFromCanvasTop: cfg.lineFromCanvasTop,
          lineToCanvasBottom: cfg.lineToCanvasBottom
        }
      },
      scales: {
        x: {
          type: 'linear',
          min: 0,
          max: 6,
          afterFit: s => { s.height = cfg.xHeight; },
          ticks: {
            display: cfg.showDates,
            stepSize: 1,
            autoSkip: false,
            maxRotation: 0,
            padding: 3,
            color: textColor,
            font: { family: FONT, size: 16 },
            callback: v => dayLabels[Math.round(v)]
          },
          grid: { display: false, drawTicks: false },
          border: { display: false },
          title: {
            display: cfg.showDates,
            text: cfg.xTitle,
            color: textColor,
            font: { family: FONT, size: 18 },
            padding: { top: 0, bottom: 5 }
          }
        },
        y: {
          min: cfg.yMin,
          max: cfg.yMax,
          afterFit: s => { s.width = cfg.yWidth; },
          ticks: {
            stepSize: 0.1,
            padding: 7,
            color: textColor,
            font: { family: FONT, size: 16 },
            callback: v => {
              const r = Math.round(v * 10) / 10;
              return r === 0 ? '0' : String(r);
            }
          },
          grid: { display: cfg.yGrid, drawTicks: false, color: '#e8e8e8', lineWidth: 1 },
          border: { display: false },
          title: {
            display: true,
            text: cfg.yTitle,
            color: textColor,
            font: { family: FONT, size: 18 },
            padding: { top: cfg.yTitlePad, bottom: 0 }
          }
        }
      }
    }
  });
}

const circle = 'circle';
const diamond = diamondMarker(7, 9);
const cross = 'crossRot';

const leftCol = { padRight: 42, yWidth: 75, yTitlePad: 13 };
const rightCol = { padRight: 23, yWidth: 100, yTitlePad: 38 };
const row1 = { titleTop: 11, xHeight: 30, showDates: false, lineFromCanvasTop: false, lineToCanvasBottom: true };
const row2 = { titleTop: 11, xHeight: 29, showDates: false, lineFromCanvasTop: true, lineToCanvasBottom: true };
const row3 = { titleTop: 15, xHeight: 52, showDates: true, lineFromCanvasTop: true, lineToCanvasBottom: false };

makePanel('chartA', Object.assign({}, leftCol, row1, {
  columns: gf2Mean, marker: circle, radius: 3.6, title: 'GF2, NH3OP1038', letter: '(a)',
  yMin: 0, yMax: 0.4, yGrid: false, yTitle: 'Mean NH\u2083 (ppm)',
  notes: [
    { text: 'Before fertilization', x: 1.27, y: 0.365, size: 13 },
    { text: 'After fertilization', x: 4.08, y: 0.365, size: 13 },
    { text: '10 mm of rainfall', x: 2.95, y: 0.26, size: 11.5 }
  ],
  arrow: { x: 2.55, from: 0.234, to: 0.123 }
}));

makePanel('chartB', Object.assign({}, rightCol, row1, {
  columns: gf2Std, marker: circle, radius: 3.6, title: 'GF2, NH3OP1038', letter: '(b)',
  yMin: 0, yMax: 0.2, yGrid: false, yTitle: 'Std NH\u2083 (ppm)',
  notes: [
    { text: 'Before fertilization', x: 1.24, y: 0.1825, size: 13 },
    { text: 'After fertilization', x: 3.95, y: 0.1845, size: 13 }
  ]
}));

makePanel('chartC', Object.assign({}, leftCol, row2, {
  columns: gf3Mean, marker: diamond, radius: 3.5, title: 'GF3, NH3OP30004', letter: '(c)',
  yMin: 0, yMax: 0.4, yGrid: false, yTitle: 'Mean NH\u2083 (ppm)'
}));

makePanel('chartD', Object.assign({}, rightCol, row2, {
  columns: gf3Std, marker: diamond, radius: 3.5, title: 'GF3, NH3OP30004', letter: '(d)',
  yMin: 0, yMax: 0.2, yGrid: false, yTitle: 'Std NH\u2083 (ppm)'
}));

makePanel('chartE', Object.assign({}, leftCol, row3, {
  columns: diffMean, marker: cross, radius: 3.2, title: 'GF2-GF3', letter: '(e)',
  yMin: -0.2, yMax: 0.2, yGrid: true, yTitle: 'Mean NH\u2083 (ppm)',
  xTitle: 'Month/day (1-min average)'
}));

makePanel('chartF', Object.assign({}, rightCol, row3, {
  columns: diffStd, marker: cross, radius: 3.2, title: 'GF2-GF3', letter: '(f)',
  yMin: -0.2, yMax: 0.2, yGrid: true, yTitle: 'Std NH\u2083 (ppm)',
  xTitle: 'Month/day (1-min standard deviation)'
}));
</script>
</body>
</html>
